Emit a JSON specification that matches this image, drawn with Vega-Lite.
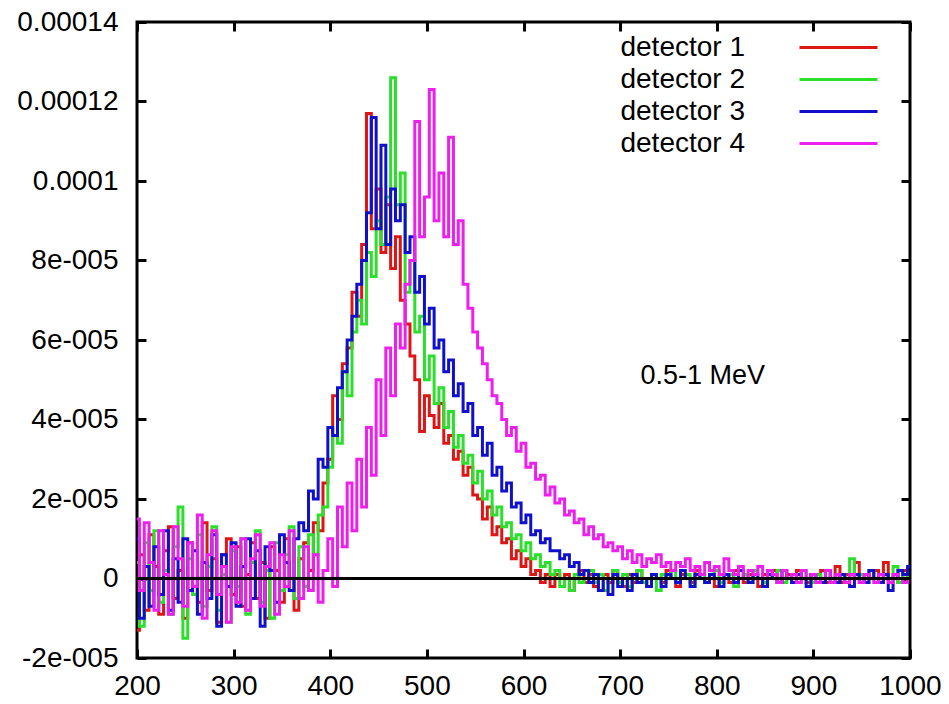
{
"$schema": "https://vega.github.io/schema/vega-lite/v6.json",
"width": 773, "height": 636,
"autosize": {"type": "none"},
"padding": {"left": 137, "top": 22, "right": 39, "bottom": 46},
"background": "white",
"config": {
 "view": {"stroke": "black", "strokeWidth": 3},
 "axis": {"domain": false, "grid": false, "ticks": true, "tickColor": "black", "tickWidth": 3, "tickSize": -9, "labelFont": "Liberation Sans", "labelFontSize": 28, "labelColor": "black", "title": null, "labelFlush": false, "labelOverlap": false}
},
"data": {"values": [
{"x":200,"s":1,"y":-13e-6},{"x":205,"s":1,"y":6e-6},{"x":210,"s":1,"y":-8e-6},{"x":215,"s":1,"y":11e-6},{"x":220,"s":1,"y":3e-6},{"x":225,"s":1,"y":-9e-6},{"x":230,"s":1,"y":7e-6},{"x":235,"s":1,"y":13e-6},{"x":240,"s":1,"y":-5e-6},{"x":245,"s":1,"y":2e-6},
{"x":250,"s":1,"y":-10e-6},{"x":255,"s":1,"y":9e-6},{"x":260,"s":1,"y":0},{"x":265,"s":1,"y":-6e-6},{"x":270,"s":1,"y":14e-6},{"x":275,"s":1,"y":-3e-6},{"x":280,"s":1,"y":5e-6},{"x":285,"s":1,"y":-11e-6},{"x":290,"s":1,"y":6e-6},{"x":295,"s":1,"y":10e-6},
{"x":300,"s":1,"y":-4e-6},{"x":305,"s":1,"y":8e-6},{"x":310,"s":1,"y":-7e-6},{"x":315,"s":1,"y":1e-6},{"x":320,"s":1,"y":9e-6},{"x":325,"s":1,"y":-5e-6},{"x":330,"s":1,"y":4e-6},{"x":335,"s":1,"y":-10e-6},{"x":340,"s":1,"y":8e-6},{"x":345,"s":1,"y":2e-6},
{"x":350,"s":1,"y":-6e-6},{"x":355,"s":1,"y":10e-6},{"x":360,"s":1,"y":0},{"x":365,"s":1,"y":-8e-6},{"x":370,"s":1,"y":5e-6},{"x":375,"s":1,"y":9e-6},{"x":380,"s":1,"y":2e-6},{"x":385,"s":1,"y":14e-6},{"x":390,"s":1,"y":12e-6},{"x":395,"s":1,"y":24e-6},
{"x":400,"s":1,"y":30e-6},{"x":405,"s":1,"y":46e-6},{"x":410,"s":1,"y":40e-6},{"x":415,"s":1,"y":54e-6},{"x":420,"s":1,"y":58e-6},{"x":425,"s":1,"y":72e-6},{"x":430,"s":1,"y":66e-6},{"x":435,"s":1,"y":84e-6},{"x":440,"s":1,"y":117e-6},{"x":445,"s":1,"y":88e-6},
{"x":450,"s":1,"y":98e-6},{"x":455,"s":1,"y":82e-6},{"x":460,"s":1,"y":94e-6},{"x":465,"s":1,"y":78e-6},{"x":470,"s":1,"y":86e-6},{"x":475,"s":1,"y":70e-6},{"x":480,"s":1,"y":64e-6},{"x":485,"s":1,"y":56e-6},{"x":490,"s":1,"y":50e-6},{"x":495,"s":1,"y":37e-6},
{"x":500,"s":1,"y":46e-6},{"x":505,"s":1,"y":41e-6},{"x":510,"s":1,"y":38e-6},{"x":515,"s":1,"y":44e-6},{"x":520,"s":1,"y":34e-6},{"x":525,"s":1,"y":36e-6},{"x":530,"s":1,"y":30e-6},{"x":535,"s":1,"y":32e-6},{"x":540,"s":1,"y":26e-6},{"x":545,"s":1,"y":28e-6},
{"x":550,"s":1,"y":21e-6},{"x":555,"s":1,"y":20e-6},{"x":560,"s":1,"y":15e-6},{"x":565,"s":1,"y":18e-6},{"x":570,"s":1,"y":11e-6},{"x":575,"s":1,"y":13e-6},{"x":580,"s":1,"y":9e-6},{"x":585,"s":1,"y":10e-6},{"x":590,"s":1,"y":5e-6},{"x":595,"s":1,"y":7e-6},
{"x":600,"s":1,"y":3e-6},{"x":605,"s":1,"y":5e-6},{"x":610,"s":1,"y":1e-6},{"x":615,"s":1,"y":2e-6},{"x":620,"s":1,"y":-1e-6},{"x":625,"s":1,"y":1e-6},{"x":630,"s":1,"y":-2e-6},{"x":635,"s":1,"y":1e-6},{"x":640,"s":1,"y":0},{"x":645,"s":1,"y":1e-6},
{"x":650,"s":1,"y":-3e-6},{"x":655,"s":1,"y":0},{"x":660,"s":1,"y":2e-6},{"x":665,"s":1,"y":-1e-6},{"x":670,"s":1,"y":1e-6},{"x":675,"s":1,"y":-2e-6},{"x":680,"s":1,"y":0},{"x":685,"s":1,"y":1e-6},{"x":690,"s":1,"y":-1e-6},{"x":695,"s":1,"y":2e-6},
{"x":700,"s":1,"y":0},{"x":705,"s":1,"y":-2e-6},{"x":710,"s":1,"y":1e-6},{"x":715,"s":1,"y":-1e-6},{"x":720,"s":1,"y":2e-6},{"x":725,"s":1,"y":0},{"x":730,"s":1,"y":-2e-6},{"x":735,"s":1,"y":1e-6},{"x":740,"s":1,"y":0},{"x":745,"s":1,"y":-1e-6},
{"x":750,"s":1,"y":2e-6},{"x":755,"s":1,"y":0},{"x":760,"s":1,"y":-2e-6},{"x":765,"s":1,"y":1e-6},{"x":770,"s":1,"y":0},{"x":775,"s":1,"y":-1e-6},{"x":780,"s":1,"y":2e-6},{"x":785,"s":1,"y":0},{"x":790,"s":1,"y":-1e-6},{"x":795,"s":1,"y":1e-6},
{"x":800,"s":1,"y":-2e-6},{"x":805,"s":1,"y":0},{"x":810,"s":1,"y":1e-6},{"x":815,"s":1,"y":-1e-6},{"x":820,"s":1,"y":2e-6},{"x":825,"s":1,"y":0},{"x":830,"s":1,"y":-1e-6},{"x":835,"s":1,"y":1e-6},{"x":840,"s":1,"y":0},{"x":845,"s":1,"y":-2e-6},
{"x":850,"s":1,"y":1e-6},{"x":855,"s":1,"y":0},{"x":860,"s":1,"y":2e-6},{"x":865,"s":1,"y":-1e-6},{"x":870,"s":1,"y":0},{"x":875,"s":1,"y":1e-6},{"x":880,"s":1,"y":-1e-6},{"x":885,"s":1,"y":2e-6},{"x":890,"s":1,"y":0},{"x":895,"s":1,"y":-1e-6},
{"x":900,"s":1,"y":1e-6},{"x":905,"s":1,"y":0},{"x":910,"s":1,"y":2e-6},{"x":915,"s":1,"y":-1e-6},{"x":920,"s":1,"y":0},{"x":925,"s":1,"y":3e-6},{"x":930,"s":1,"y":-1e-6},{"x":935,"s":1,"y":1e-6},{"x":940,"s":1,"y":0},{"x":945,"s":1,"y":4e-6},
{"x":950,"s":1,"y":-1e-6},{"x":955,"s":1,"y":1e-6},{"x":960,"s":1,"y":0},{"x":965,"s":1,"y":2e-6},{"x":970,"s":1,"y":-1e-6},{"x":975,"s":1,"y":4e-6},{"x":980,"s":1,"y":0},{"x":985,"s":1,"y":1e-6},{"x":990,"s":1,"y":-1e-6},{"x":995,"s":1,"y":2e-6},{"x":1000,"s":1,"y":0},
{"x":200,"s":2,"y":4e-6},{"x":205,"s":2,"y":-12e-6},{"x":210,"s":2,"y":9e-6},{"x":215,"s":2,"y":-3e-6},{"x":220,"s":2,"y":12e-6},{"x":225,"s":2,"y":-6e-6},{"x":230,"s":2,"y":2e-6},{"x":235,"s":2,"y":-9e-6},{"x":240,"s":2,"y":8e-6},{"x":245,"s":2,"y":18e-6},
{"x":250,"s":2,"y":-15e-6},{"x":255,"s":2,"y":5e-6},{"x":260,"s":2,"y":-4e-6},{"x":265,"s":2,"y":11e-6},{"x":270,"s":2,"y":-7e-6},{"x":275,"s":2,"y":3e-6},{"x":280,"s":2,"y":13e-6},{"x":285,"s":2,"y":-8e-6},{"x":290,"s":2,"y":1e-6},{"x":295,"s":2,"y":-11e-6},
{"x":300,"s":2,"y":7e-6},{"x":305,"s":2,"y":-2e-6},{"x":310,"s":2,"y":10e-6},{"x":315,"s":2,"y":-9e-6},{"x":320,"s":2,"y":4e-6},{"x":325,"s":2,"y":12e-6},{"x":330,"s":2,"y":-6e-6},{"x":335,"s":2,"y":2e-6},{"x":340,"s":2,"y":-10e-6},{"x":345,"s":2,"y":9e-6},
{"x":350,"s":2,"y":-3e-6},{"x":355,"s":2,"y":6e-6},{"x":360,"s":2,"y":13e-6},{"x":365,"s":2,"y":-5e-6},{"x":370,"s":2,"y":8e-6},{"x":375,"s":2,"y":-2e-6},{"x":380,"s":2,"y":11e-6},{"x":385,"s":2,"y":6e-6},{"x":390,"s":2,"y":16e-6},{"x":395,"s":2,"y":18e-6},
{"x":400,"s":2,"y":28e-6},{"x":405,"s":2,"y":36e-6},{"x":410,"s":2,"y":34e-6},{"x":415,"s":2,"y":52e-6},{"x":420,"s":2,"y":46e-6},{"x":425,"s":2,"y":62e-6},{"x":430,"s":2,"y":70e-6},{"x":435,"s":2,"y":64e-6},{"x":440,"s":2,"y":82e-6},{"x":445,"s":2,"y":76e-6},
{"x":450,"s":2,"y":90e-6},{"x":455,"s":2,"y":84e-6},{"x":460,"s":2,"y":96e-6},{"x":465,"s":2,"y":126e-6},{"x":470,"s":2,"y":94e-6},{"x":475,"s":2,"y":102e-6},{"x":480,"s":2,"y":72e-6},{"x":485,"s":2,"y":80e-6},{"x":490,"s":2,"y":62e-6},{"x":495,"s":2,"y":66e-6},
{"x":500,"s":2,"y":50e-6},{"x":505,"s":2,"y":56e-6},{"x":510,"s":2,"y":44e-6},{"x":515,"s":2,"y":48e-6},{"x":520,"s":2,"y":38e-6},{"x":525,"s":2,"y":42e-6},{"x":530,"s":2,"y":33e-6},{"x":535,"s":2,"y":36e-6},{"x":540,"s":2,"y":29e-6},{"x":545,"s":2,"y":31e-6},
{"x":550,"s":2,"y":24e-6},{"x":555,"s":2,"y":27e-6},{"x":560,"s":2,"y":20e-6},{"x":565,"s":2,"y":22e-6},{"x":570,"s":2,"y":16e-6},{"x":575,"s":2,"y":18e-6},{"x":580,"s":2,"y":13e-6},{"x":585,"s":2,"y":14e-6},{"x":590,"s":2,"y":10e-6},{"x":595,"s":2,"y":11e-6},
{"x":600,"s":2,"y":7e-6},{"x":605,"s":2,"y":9e-6},{"x":610,"s":2,"y":5e-6},{"x":615,"s":2,"y":6e-6},{"x":620,"s":2,"y":3e-6},{"x":625,"s":2,"y":4e-6},{"x":630,"s":2,"y":1e-6},{"x":635,"s":2,"y":2e-6},{"x":640,"s":2,"y":-2e-6},{"x":645,"s":2,"y":0},
{"x":650,"s":2,"y":-3e-6},{"x":655,"s":2,"y":1e-6},{"x":660,"s":2,"y":-1e-6},{"x":665,"s":2,"y":0},{"x":670,"s":2,"y":2e-6},{"x":675,"s":2,"y":-1e-6},{"x":680,"s":2,"y":1e-6},{"x":685,"s":2,"y":-3e-6},{"x":690,"s":2,"y":0},{"x":695,"s":2,"y":2e-6},
{"x":700,"s":2,"y":-1e-6},{"x":705,"s":2,"y":1e-6},{"x":710,"s":2,"y":-2e-6},{"x":715,"s":2,"y":0},{"x":720,"s":2,"y":2e-6},{"x":725,"s":2,"y":-1e-6},{"x":730,"s":2,"y":0},{"x":735,"s":2,"y":1e-6},{"x":740,"s":2,"y":-3e-6},{"x":745,"s":2,"y":1e-6},
{"x":750,"s":2,"y":0},{"x":755,"s":2,"y":2e-6},{"x":760,"s":2,"y":-1e-6},{"x":765,"s":2,"y":0},{"x":770,"s":2,"y":1e-6},{"x":775,"s":2,"y":-2e-6},{"x":780,"s":2,"y":0},{"x":785,"s":2,"y":1e-6},{"x":790,"s":2,"y":-1e-6},{"x":795,"s":2,"y":0},
{"x":800,"s":2,"y":2e-6},{"x":805,"s":2,"y":-1e-6},{"x":810,"s":2,"y":0},{"x":815,"s":2,"y":1e-6},{"x":820,"s":2,"y":-2e-6},{"x":825,"s":2,"y":0},{"x":830,"s":2,"y":1e-6},{"x":835,"s":2,"y":-1e-6},{"x":840,"s":2,"y":2e-6},{"x":845,"s":2,"y":0},
{"x":850,"s":2,"y":-1e-6},{"x":855,"s":2,"y":1e-6},{"x":860,"s":2,"y":0},{"x":865,"s":2,"y":2e-6},{"x":870,"s":2,"y":-1e-6},{"x":875,"s":2,"y":0},{"x":880,"s":2,"y":1e-6},{"x":885,"s":2,"y":-1e-6},{"x":890,"s":2,"y":2e-6},{"x":895,"s":2,"y":0},
{"x":900,"s":2,"y":-1e-6},{"x":905,"s":2,"y":1e-6},{"x":910,"s":2,"y":0},{"x":915,"s":2,"y":2e-6},{"x":920,"s":2,"y":-1e-6},{"x":925,"s":2,"y":0},{"x":930,"s":2,"y":1e-6},{"x":935,"s":2,"y":-1e-6},{"x":940,"s":2,"y":5e-6},{"x":945,"s":2,"y":0},
{"x":950,"s":2,"y":1e-6},{"x":955,"s":2,"y":-1e-6},{"x":960,"s":2,"y":2e-6},{"x":965,"s":2,"y":0},{"x":970,"s":2,"y":-1e-6},{"x":975,"s":2,"y":1e-6},{"x":980,"s":2,"y":0},{"x":985,"s":2,"y":3e-6},{"x":990,"s":2,"y":-1e-6},{"x":995,"s":2,"y":1e-6},{"x":1000,"s":2,"y":0},
{"x":200,"s":3,"y":10e-6},{"x":205,"s":3,"y":-10e-6},{"x":210,"s":3,"y":3e-6},{"x":215,"s":3,"y":-7e-6},{"x":220,"s":3,"y":8e-6},{"x":225,"s":3,"y":-4e-6},{"x":230,"s":3,"y":12e-6},{"x":235,"s":3,"y":-8e-6},{"x":240,"s":3,"y":5e-6},{"x":245,"s":3,"y":-6e-6},
{"x":250,"s":3,"y":10e-6},{"x":255,"s":3,"y":-3e-6},{"x":260,"s":3,"y":7e-6},{"x":265,"s":3,"y":-9e-6},{"x":270,"s":3,"y":4e-6},{"x":275,"s":3,"y":-5e-6},{"x":280,"s":3,"y":11e-6},{"x":285,"s":3,"y":-12e-6},{"x":290,"s":3,"y":6e-6},{"x":295,"s":3,"y":-2e-6},
{"x":300,"s":3,"y":9e-6},{"x":305,"s":3,"y":-7e-6},{"x":310,"s":3,"y":3e-6},{"x":315,"s":3,"y":10e-6},{"x":320,"s":3,"y":-5e-6},{"x":325,"s":3,"y":7e-6},{"x":330,"s":3,"y":-12e-6},{"x":335,"s":3,"y":8e-6},{"x":340,"s":3,"y":2e-6},{"x":345,"s":3,"y":-6e-6},
{"x":350,"s":3,"y":11e-6},{"x":355,"s":3,"y":4e-6},{"x":360,"s":3,"y":-3e-6},{"x":365,"s":3,"y":10e-6},{"x":370,"s":3,"y":14e-6},{"x":375,"s":3,"y":12e-6},{"x":380,"s":3,"y":22e-6},{"x":385,"s":3,"y":20e-6},{"x":390,"s":3,"y":30e-6},{"x":395,"s":3,"y":28e-6},
{"x":400,"s":3,"y":38e-6},{"x":405,"s":3,"y":36e-6},{"x":410,"s":3,"y":48e-6},{"x":415,"s":3,"y":52e-6},{"x":420,"s":3,"y":60e-6},{"x":425,"s":3,"y":66e-6},{"x":430,"s":3,"y":74e-6},{"x":435,"s":3,"y":80e-6},{"x":440,"s":3,"y":92e-6},{"x":445,"s":3,"y":116e-6},
{"x":450,"s":3,"y":88e-6},{"x":455,"s":3,"y":109e-6},{"x":460,"s":3,"y":84e-6},{"x":465,"s":3,"y":98e-6},{"x":470,"s":3,"y":90e-6},{"x":475,"s":3,"y":94e-6},{"x":480,"s":3,"y":82e-6},{"x":485,"s":3,"y":86e-6},{"x":490,"s":3,"y":72e-6},{"x":495,"s":3,"y":76e-6},
{"x":500,"s":3,"y":64e-6},{"x":505,"s":3,"y":68e-6},{"x":510,"s":3,"y":58e-6},{"x":515,"s":3,"y":60e-6},{"x":520,"s":3,"y":52e-6},{"x":525,"s":3,"y":55e-6},{"x":530,"s":3,"y":46e-6},{"x":535,"s":3,"y":49e-6},{"x":540,"s":3,"y":42e-6},{"x":545,"s":3,"y":44e-6},
{"x":550,"s":3,"y":36e-6},{"x":555,"s":3,"y":38e-6},{"x":560,"s":3,"y":31e-6},{"x":565,"s":3,"y":34e-6},{"x":570,"s":3,"y":26e-6},{"x":575,"s":3,"y":28e-6},{"x":580,"s":3,"y":22e-6},{"x":585,"s":3,"y":24e-6},{"x":590,"s":3,"y":18e-6},{"x":595,"s":3,"y":19e-6},
{"x":600,"s":3,"y":14e-6},{"x":605,"s":3,"y":16e-6},{"x":610,"s":3,"y":11e-6},{"x":615,"s":3,"y":12e-6},{"x":620,"s":3,"y":9e-6},{"x":625,"s":3,"y":10e-6},{"x":630,"s":3,"y":7e-6},{"x":635,"s":3,"y":7e-6},{"x":640,"s":3,"y":5e-6},{"x":645,"s":3,"y":6e-6},
{"x":650,"s":3,"y":3e-6},{"x":655,"s":3,"y":4e-6},{"x":660,"s":3,"y":1e-6},{"x":665,"s":3,"y":2e-6},{"x":670,"s":3,"y":-1e-6},{"x":675,"s":3,"y":1e-6},{"x":680,"s":3,"y":-3e-6},{"x":685,"s":3,"y":0},{"x":690,"s":3,"y":-4e-6},{"x":695,"s":3,"y":1e-6},
{"x":700,"s":3,"y":-2e-6},{"x":705,"s":3,"y":0},{"x":710,"s":3,"y":-3e-6},{"x":715,"s":3,"y":1e-6},{"x":720,"s":3,"y":-1e-6},{"x":725,"s":3,"y":0},{"x":730,"s":3,"y":-2e-6},{"x":735,"s":3,"y":1e-6},{"x":740,"s":3,"y":0},{"x":745,"s":3,"y":-2e-6},
{"x":750,"s":3,"y":1e-6},{"x":755,"s":3,"y":0},{"x":760,"s":3,"y":-1e-6},{"x":765,"s":3,"y":2e-6},{"x":770,"s":3,"y":0},{"x":775,"s":3,"y":-2e-6},{"x":780,"s":3,"y":1e-6},{"x":785,"s":3,"y":0},{"x":790,"s":3,"y":-1e-6},{"x":795,"s":3,"y":1e-6},
{"x":800,"s":3,"y":0},{"x":805,"s":3,"y":-2e-6},{"x":810,"s":3,"y":1e-6},{"x":815,"s":3,"y":0},{"x":820,"s":3,"y":-1e-6},{"x":825,"s":3,"y":2e-6},{"x":830,"s":3,"y":0},{"x":835,"s":3,"y":-1e-6},{"x":840,"s":3,"y":1e-6},{"x":845,"s":3,"y":0},
{"x":850,"s":3,"y":-2e-6},{"x":855,"s":3,"y":1e-6},{"x":860,"s":3,"y":0},{"x":865,"s":3,"y":-1e-6},{"x":870,"s":3,"y":2e-6},{"x":875,"s":3,"y":0},{"x":880,"s":3,"y":-1e-6},{"x":885,"s":3,"y":1e-6},{"x":890,"s":3,"y":0},{"x":895,"s":3,"y":-2e-6},
{"x":900,"s":3,"y":1e-6},{"x":905,"s":3,"y":0},{"x":910,"s":3,"y":-1e-6},{"x":915,"s":3,"y":2e-6},{"x":920,"s":3,"y":0},{"x":925,"s":3,"y":-1e-6},{"x":930,"s":3,"y":1e-6},{"x":935,"s":3,"y":0},{"x":940,"s":3,"y":-2e-6},{"x":945,"s":3,"y":1e-6},
{"x":950,"s":3,"y":0},{"x":955,"s":3,"y":-1e-6},{"x":960,"s":3,"y":2e-6},{"x":965,"s":3,"y":0},{"x":970,"s":3,"y":-1e-6},{"x":975,"s":3,"y":1e-6},{"x":980,"s":3,"y":-3e-6},{"x":985,"s":3,"y":0},{"x":990,"s":3,"y":2e-6},{"x":995,"s":3,"y":1e-6},{"x":1000,"s":3,"y":3e-6},
{"x":200,"s":4,"y":15e-6},{"x":205,"s":4,"y":-3e-6},{"x":210,"s":4,"y":14e-6},{"x":215,"s":4,"y":4e-6},{"x":220,"s":4,"y":-8e-6},{"x":225,"s":4,"y":12e-6},{"x":230,"s":4,"y":1e-6},{"x":235,"s":4,"y":-9e-6},{"x":240,"s":4,"y":13e-6},{"x":245,"s":4,"y":5e-6},
{"x":250,"s":4,"y":-7e-6},{"x":255,"s":4,"y":9e-6},{"x":260,"s":4,"y":-2e-6},{"x":265,"s":4,"y":16e-6},{"x":270,"s":4,"y":-10e-6},{"x":275,"s":4,"y":6e-6},{"x":280,"s":4,"y":12e-6},{"x":285,"s":4,"y":-4e-6},{"x":290,"s":4,"y":3e-6},{"x":295,"s":4,"y":-11e-6},
{"x":300,"s":4,"y":8e-6},{"x":305,"s":4,"y":-6e-6},{"x":310,"s":4,"y":10e-6},{"x":315,"s":4,"y":-8e-6},{"x":320,"s":4,"y":5e-6},{"x":325,"s":4,"y":11e-6},{"x":330,"s":4,"y":-7e-6},{"x":335,"s":4,"y":3e-6},{"x":340,"s":4,"y":9e-6},{"x":345,"s":4,"y":-9e-6},
{"x":350,"s":4,"y":6e-6},{"x":355,"s":4,"y":-2e-6},{"x":360,"s":4,"y":12e-6},{"x":365,"s":4,"y":0},{"x":370,"s":4,"y":-5e-6},{"x":375,"s":4,"y":8e-6},{"x":380,"s":4,"y":-3e-6},{"x":385,"s":4,"y":6e-6},{"x":390,"s":4,"y":-6e-6},{"x":395,"s":4,"y":2e-6},
{"x":400,"s":4,"y":10e-6},{"x":405,"s":4,"y":-2e-6},{"x":410,"s":4,"y":18e-6},{"x":415,"s":4,"y":8e-6},{"x":420,"s":4,"y":24e-6},{"x":425,"s":4,"y":12e-6},{"x":430,"s":4,"y":30e-6},{"x":435,"s":4,"y":18e-6},{"x":440,"s":4,"y":38e-6},{"x":445,"s":4,"y":26e-6},
{"x":450,"s":4,"y":50e-6},{"x":455,"s":4,"y":36e-6},{"x":460,"s":4,"y":58e-6},{"x":465,"s":4,"y":46e-6},{"x":470,"s":4,"y":64e-6},{"x":475,"s":4,"y":58e-6},{"x":480,"s":4,"y":74e-6},{"x":485,"s":4,"y":80e-6},{"x":490,"s":4,"y":115e-6},{"x":495,"s":4,"y":86e-6},
{"x":500,"s":4,"y":96e-6},{"x":505,"s":4,"y":123e-6},{"x":510,"s":4,"y":90e-6},{"x":515,"s":4,"y":102e-6},{"x":520,"s":4,"y":86e-6},{"x":525,"s":4,"y":111e-6},{"x":530,"s":4,"y":84e-6},{"x":535,"s":4,"y":90e-6},{"x":540,"s":4,"y":74e-6},{"x":545,"s":4,"y":68e-6},
{"x":550,"s":4,"y":62e-6},{"x":555,"s":4,"y":58e-6},{"x":560,"s":4,"y":54e-6},{"x":565,"s":4,"y":50e-6},{"x":570,"s":4,"y":46e-6},{"x":575,"s":4,"y":44e-6},{"x":580,"s":4,"y":40e-6},{"x":585,"s":4,"y":36e-6},{"x":590,"s":4,"y":38e-6},{"x":595,"s":4,"y":32e-6},
{"x":600,"s":4,"y":34e-6},{"x":605,"s":4,"y":28e-6},{"x":610,"s":4,"y":29e-6},{"x":615,"s":4,"y":25e-6},{"x":620,"s":4,"y":26e-6},{"x":625,"s":4,"y":21e-6},{"x":630,"s":4,"y":23e-6},{"x":635,"s":4,"y":19e-6},{"x":640,"s":4,"y":20e-6},{"x":645,"s":4,"y":16e-6},
{"x":650,"s":4,"y":17e-6},{"x":655,"s":4,"y":14e-6},{"x":660,"s":4,"y":15e-6},{"x":665,"s":4,"y":11e-6},{"x":670,"s":4,"y":13e-6},{"x":675,"s":4,"y":10e-6},{"x":680,"s":4,"y":11e-6},{"x":685,"s":4,"y":8e-6},{"x":690,"s":4,"y":9e-6},{"x":695,"s":4,"y":7e-6},
{"x":700,"s":4,"y":8e-6},{"x":705,"s":4,"y":5e-6},{"x":710,"s":4,"y":7e-6},{"x":715,"s":4,"y":4e-6},{"x":720,"s":4,"y":6e-6},{"x":725,"s":4,"y":3e-6},{"x":730,"s":4,"y":5e-6},{"x":735,"s":4,"y":4e-6},{"x":740,"s":4,"y":6e-6},{"x":745,"s":4,"y":3e-6},
{"x":750,"s":4,"y":4e-6},{"x":755,"s":4,"y":2e-6},{"x":760,"s":4,"y":4e-6},{"x":765,"s":4,"y":3e-6},{"x":770,"s":4,"y":5e-6},{"x":775,"s":4,"y":2e-6},{"x":780,"s":4,"y":3e-6},{"x":785,"s":4,"y":1e-6},{"x":790,"s":4,"y":4e-6},{"x":795,"s":4,"y":2e-6},
{"x":800,"s":4,"y":3e-6},{"x":805,"s":4,"y":1e-6},{"x":810,"s":4,"y":5e-6},{"x":815,"s":4,"y":2e-6},{"x":820,"s":4,"y":1e-6},{"x":825,"s":4,"y":3e-6},{"x":830,"s":4,"y":0},{"x":835,"s":4,"y":2e-6},{"x":840,"s":4,"y":1e-6},{"x":845,"s":4,"y":3e-6},
{"x":850,"s":4,"y":0},{"x":855,"s":4,"y":2e-6},{"x":860,"s":4,"y":1e-6},{"x":865,"s":4,"y":-1e-6},{"x":870,"s":4,"y":2e-6},{"x":875,"s":4,"y":0},{"x":880,"s":4,"y":1e-6},{"x":885,"s":4,"y":-1e-6},{"x":890,"s":4,"y":2e-6},{"x":895,"s":4,"y":0},
{"x":900,"s":4,"y":1e-6},{"x":905,"s":4,"y":-1e-6},{"x":910,"s":4,"y":0},{"x":915,"s":4,"y":2e-6},{"x":920,"s":4,"y":-1e-6},{"x":925,"s":4,"y":1e-6},{"x":930,"s":4,"y":0},{"x":935,"s":4,"y":-1e-6},{"x":940,"s":4,"y":1e-6},{"x":945,"s":4,"y":0},
{"x":950,"s":4,"y":-1e-6},{"x":955,"s":4,"y":1e-6},{"x":960,"s":4,"y":0},{"x":965,"s":4,"y":-1e-6},{"x":970,"s":4,"y":1e-6},{"x":975,"s":4,"y":0},{"x":980,"s":4,"y":-1e-6},{"x":985,"s":4,"y":1e-6},{"x":990,"s":4,"y":0},{"x":995,"s":4,"y":-1e-6},{"x":1000,"s":4,"y":0}
]},
"layer": [
 {"mark": {"type": "line", "interpolate": "step", "strokeWidth": 3},
  "encoding": {
   "x": {"field": "x", "type": "quantitative", "scale": {"domain": [200, 1000], "nice": false, "zero": false},
         "axis": {"orient": "bottom", "values": [200,300,400,500,600,700,800,900,1000], "format": "d", "labelPadding": 23}},
   "y": {"field": "y", "type": "quantitative", "scale": {"domain": [-2e-5, 1.4e-4], "nice": false, "zero": false},
         "axis": {"orient": "left", "values": [-2e-5,0,2e-5,4e-5,6e-5,8e-5,1e-4,1.2e-4,1.4e-4], "labelPadding": 28,
                  "labelExpr": "abs(datum.value) < 1e-12 ? '0' : (datum.value >= 9.9e-5 ? '' + (round(datum.value*1e5)/1e5) : round(datum.value*1e5) + 'e-005')"}},
   "color": {"field": "s", "type": "nominal",
             "scale": {"domain": [1,2,3,4], "range": ["#dd1515", "#2ae02a", "#1010cc", "#ee1eee"]},
             "legend": {"orient": "none", "legendX": 687, "legendY": 11, "title": null,
                        "symbolType": "M-3,0L3,0", "symbolSize": 676, "symbolStrokeWidth": 3, "symbolFillColor": "transparent",
                        "labelAlign": "right", "labelOffset": -108, "labelFont": "Liberation Sans", "labelFontSize": 28, "labelColor": "black",
                        "rowPadding": 3, "labelExpr": "'detector ' + datum.label"}}
  }},
 {"mark": {"type": "rule", "color": "black", "strokeWidth": 3},
  "encoding": {"y": {"datum": 0, "type": "quantitative", "axis": null}}},
 {"data": {"values": [{"label": "0.5-1 MeV"}]},
  "mark": {"type": "text", "font": "Liberation Sans", "fontSize": 27, "align": "left", "baseline": "middle", "color": "black"},
  "encoding": {
   "x": {"datum": 721, "type": "quantitative", "axis": {"orient": "top", "labels": false, "values": [200,300,400,500,600,700,800,900,1000]}},
   "y": {"datum": 5.1e-5, "type": "quantitative", "axis": {"orient": "right", "labels": false, "values": [-2e-5,0,2e-5,4e-5,6e-5,8e-5,1e-4,1.2e-4,1.4e-4]}},
   "text": {"field": "label"}
  }}
],
"resolve": {"axis": {"x": "independent", "y": "independent"}}
}
